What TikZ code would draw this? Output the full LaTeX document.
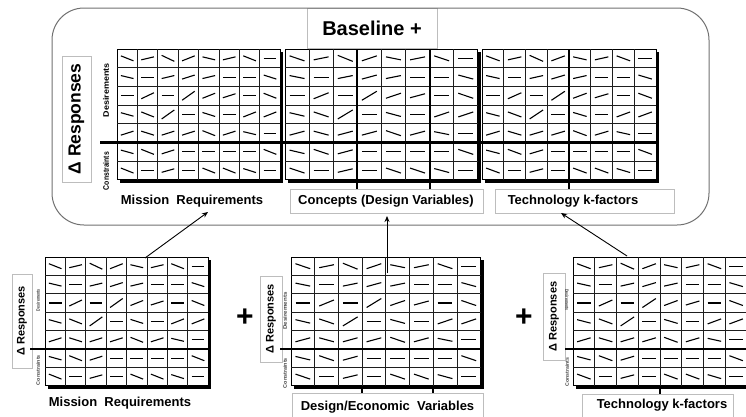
\documentclass[tikz,border=0pt]{standalone}
\usepackage{fontspec}
\setmainfont{Liberation Sans}
\usetikzlibrary{arrows.meta}
\definecolor{boxgray}{HTML}{BDBDBD}
\definecolor{rimgray}{HTML}{707070}
\definecolor{inkgray}{HTML}{1E1E1E}
\definecolor{faintink}{HTML}{444444}

% rise of the short mark in every cell (pt, upwards positive), row by row
\newcommand\slopedata{{-5,3,-6,5,-3,3,-5,0},{-3,0,3,4,3,0,0,-4},{0,6,0,9,5,4,0,-5},{-3.5,-5,9,0,-4,0,5,5},{4,-4,4,4,-5,4,-3,0},{-3.5,-5,4,0,0,0,0,-5},{-5,0,3.5,0,-5,-5,-4,0}}

% #1 name, #2 left, #3 top, #4 cell width, #5 cell height
\newcommand\slopegrid[5]{%
  \pgfmathsetmacro\gw{8*#4}%
  \pgfmathsetmacro\gh{7*#5}%
  \fill[black] ({#2+3},{#3+3}) rectangle ++(\gw,\gh);
  \node[gridbase, minimum width=\gw pt, minimum height=\gh pt, anchor=north west] (#1) at (#2,#3) {};
  \foreach \i in {1,...,7} \draw[cellrule] ({#2+\i*#4},#3) -- ++(0,\gh);
  \foreach \j in {1,...,6} \draw[cellrule] (#2,{#3+\j*#5}) -- ++(\gw,0);
  \foreach \row [count=\r from 0] in \slopedata {
    \foreach \s [count=\c from 0] in \row {
      \draw[cellmark] ({#2+\c*#4+0.19*#4},{#3+(\r+0.5)*#5+0.5*(\s)}) -- ++({0.62*#4},{0-(\s)});
    }
  }
}

\begin{document}
\begin{tikzpicture}[x=1pt,y=-1pt,
  gridbase/.style={draw=black, fill=white, line width=0.9pt, inner sep=0pt, outer sep=0pt},
  cellrule/.style={draw=inkgray, line width=0.8pt},
  cellmark/.style={draw=black, line width=1.1pt},
  thickrule/.style={draw=black, line width=2.4pt},
  colrule/.style={draw=black, line width=2pt},
  lblbox/.style={draw=boxgray, line width=0.8pt, fill=white, inner sep=0pt},
  lbl/.style={font=\fontsize{13}{15}\selectfont\bfseries, inner sep=0pt},
  dbox/.style={draw=boxgray, line width=0.8pt, fill=white, rotate=90, inner sep=0pt},
  sidelbl/.style={rotate=90, inner sep=0pt, text=faintink},
  plussign/.style={font=\fontsize{30}{30}\selectfont\bfseries, inner sep=0pt},
  arr/.style={draw=black, line width=0.9pt, -{Stealth[length=6pt,width=5pt]}},
]
\useasboundingbox (0,0) rectangle (746,416);

% ---------- upper panel: baseline plus the three sensitivity grids ----------
\node[lblbox, minimum width=130pt, minimum height=40pt,
      font=\fontsize{20}{24}\selectfont\bfseries] (bl) at (372,28) {Baseline +};

\node[dbox, minimum width=126pt, minimum height=29pt,
      font=\fontsize{17.5}{20}\selectfont\bfseries] (drT) at (76.5,119) {Δ Responses};
\node[sidelbl, text=black] (dsT) at (106,90) {\resizebox{54pt}{5.8pt}{\bfseries Desirements}};
\node[sidelbl, text=black] (csT) at (106,171) {\resizebox{38pt}{5.8pt}{\bfseries Constraints}};

\slopegrid{g1}{117}{49}{20.4}{18.7}
\slopegrid{g2}{285}{49}{24.1}{18.7}
\slopegrid{g3}{482}{49}{21.75}{18.7}

\node[lblbox, minimum width=193pt, minimum height=24pt] (cvBox) at (386.5,201) {};
\node[lblbox, minimum width=179pt, minimum height=24pt] (tkBoxT) at (584.5,201) {};

\coordinate (hT) at (100,142.5);
\draw[thickrule] (hT) -- (hT -| g3.east);
\coordinate (c2a) at ({285+3*24.1},49);
\coordinate (c2b) at ({285+6*24.1},49);
\coordinate (c3a) at ({482+4*21.75},49);
\draw[colrule] (c2a) -- (c2a |- cvBox.north);
\draw[colrule] (c2b) -- (c2b |- cvBox.north);
\draw[colrule] (c3a) -- (c3a |- tkBoxT.north);

\node[lbl] (mrT) at (192,201) {Mission~~Requirements};
\node[lbl] (cvT) at (386,201) {Concepts (Design Variables)};
\node[lbl] (tkT) at (573,201) {Technology k-factors};

\node[draw=rimgray, line width=1pt, rounded corners=32pt, minimum width=657pt,
      minimum height=217pt, inner sep=0pt] (base) at (380.5,116.5) {};

% ---------- lower row: the three contributing grids ----------
\node[dbox, minimum width=94pt, minimum height=20pt,
      font=\fontsize{11}{13}\selectfont\bfseries] (drA) at (22,321) {Δ Responses};
\node[sidelbl] (dsA) at (38,300) {\resizebox{22pt}{3.6pt}{\bfseries Desirements}};
\node[sidelbl] (csA) at (38,370) {\resizebox{30pt}{3.6pt}{\bfseries Constraints}};
\slopegrid{gA}{45}{257}{20.4}{18.4}
\coordinate (hA) at (30,349);
\draw[thickrule] (hA) -- (hA -| gA.east);
\node[lbl] (mrB) at (120,403) {Mission~~Requirements};

\node[plussign] (p1) at (245,318) {+};

\node[dbox, minimum width=86pt, minimum height=22pt,
      font=\fontsize{11}{13}\selectfont\bfseries] (drB) at (271,319) {Δ Responses};
\node[sidelbl] (dsB) at (285,311) {\resizebox{37pt}{3.8pt}{\bfseries Desirements}};
\node[sidelbl] (csB) at (285,373) {\resizebox{30pt}{3.8pt}{\bfseries Constraints}};
\slopegrid{gB}{291}{257}{23.7}{18.4}
\coordinate (hB) at (280,349);
\draw[thickrule] (hB) -- (hB -| gB.east);
\node[lblbox, minimum width=191pt, minimum height=28pt,
      font=\fontsize{13}{15}\selectfont\bfseries] (deB) at (387.5,407) {Design/Economic~~Variables};
\coordinate (cBa) at ({291+3*23.7},{257+7*18.4});
\coordinate (cBb) at ({291+6*23.7},{257+7*18.4});
\draw[colrule] (cBa) -- (cBa |- deB.north);
\draw[colrule] (cBb) -- (cBb |- deB.north);

\node[plussign] (p2) at (524,318) {+};

\node[dbox, minimum width=87pt, minimum height=22pt,
      font=\fontsize{11}{13}\selectfont\bfseries] (drC) at (554,316.5) {Δ Responses};
\node[sidelbl, rotate=180] (dsC) at (567,300) {\resizebox{22pt}{3.6pt}{\bfseries Desirements}};
\node[sidelbl] (csC) at (567,372) {\resizebox{29pt}{3.6pt}{\bfseries Constraints}};
\slopegrid{gC}{573}{257}{21.75}{18.4}
\coordinate (hC) at (565,349);
\draw[thickrule] (hC) -- (hC -| gC.east);
\node[lblbox, minimum width=151pt, minimum height=28pt] (tkBoxB) at (657.5,408) {};
\node[lbl] (tkB) at (662,405) {Technology k-factors};
\coordinate (cCa) at ({573+4*21.75},{257+7*18.4});
\draw[colrule] (cCa) -- (cCa |- tkBoxB.north);

% ---------- arrows feeding the upper panel ----------
\coordinate (a1s) at (145,258);
\coordinate (a1e) at (208,212);
\coordinate (a2s) at (387,273);
\coordinate (a2e) at (387,216);
\coordinate (a3s) at (627,256);
\coordinate (a3e) at (561,213);
\draw[arr] (a1s) -- (a1e);
\draw[arr] (a2s) -- (a2e);
\draw[arr] (a3s) -- (a3e);
\end{tikzpicture}
\end{document}
